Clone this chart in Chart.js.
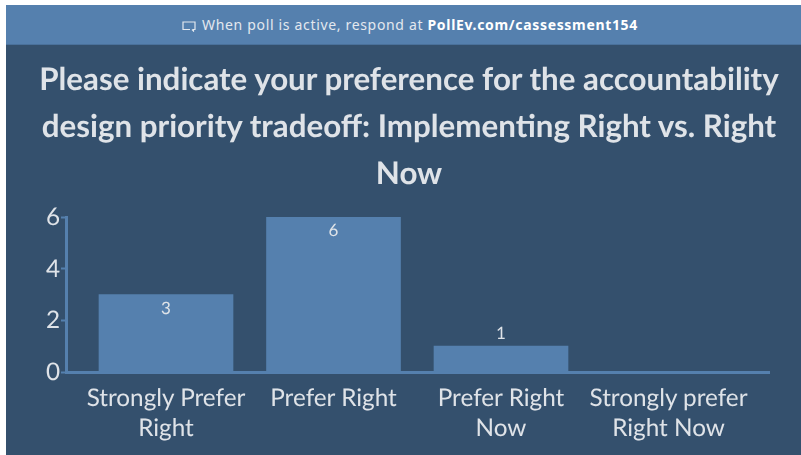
<!DOCTYPE html>
<html><head><meta charset="utf-8">
<script src="https://cdn.jsdelivr.net/npm/chart.js@4"></script>
<style>
html,body{margin:0;padding:0;background:#fff;width:801px;height:455px;overflow:hidden}
#panel{position:absolute;left:6px;top:5px;width:795px;height:450px;background:#34506d}
#banner{position:absolute;left:6px;top:5px;width:795px;height:40px;background:#5580ae;border-bottom:1px solid #4a719b;box-sizing:border-box;color:#e3e8ee;font:14px/40px "Noto Sans",sans-serif;text-align:center;letter-spacing:.67px;padding-left:13px}
#banner b{font-weight:700;color:#fff}
#banner svg{vertical-align:-2px;margin-right:6px}
canvas{position:absolute;left:0;top:0}
</style></head><body>
<div id="panel"></div>
<div id="banner"><svg width="14" height="11" viewBox="0 0 14 11" fill="none" stroke="#e3e8ee" stroke-width="1.2"><path d="M8 8.5H1V1h12v7.5h-1.5V10L10 8.5"/></svg>When poll is active, respond at <b>PollEv.com/cassessment154</b></div>
<canvas id="c" width="801" height="455"></canvas>
<script>
const categories=[["Strongly Prefer","Right"],["Prefer Right"],["Prefer Right","Now"],["Strongly prefer","Right Now"]];
const values=[3,6,1,0];
const yTicks=[0,2,4,6];
const titleLines=["Please indicate your preference for the accountability","design priority tradeoff: Implementing Right vs. Right","Now"];
const textColor="#dfe3e8",axisColor="#5580ae",font='Lato';
const valueLabels={id:"valueLabels",afterDatasetsDraw(chart){
  const {ctx}=chart;ctx.save();
  ctx.font='17px '+font;ctx.fillStyle=textColor;ctx.textAlign="center";ctx.textBaseline="middle";
  chart.getDatasetMeta(0).data.forEach((bar,i)=>{
    const v=values[i];if(!v)return;
    const y=v>=2?bar.y+14:bar.y-13;
    ctx.fillText(String(v),bar.x,y);
  });ctx.restore();}};
const titleShift={id:"titleShift",
  beforeDraw(chart){chart.ctx.textRendering="geometricPrecision";},
  afterLayout(chart){chart.titleBlock.left=0;chart.titleBlock.right=818;}};
new Chart(document.getElementById("c"),{
  type:"bar",
  data:{datasets:[{data:values.map((v,i)=>({x:i,y:v})),backgroundColor:axisColor,barThickness:134,borderSkipped:false}]},
  options:{responsive:false,animation:false,
    layout:{padding:{top:0,right:32,bottom:0,left:0}},
    plugins:{legend:{display:false},tooltip:{enabled:false},
      title:{display:true,text:titleLines,color:textColor,font:{family:font,size:31.3,weight:"700",lineHeight:47/31.3},padding:{top:56,bottom:20}}},
    scales:{
      x:{type:"linear",offset:false,min:-0.597,max:3.6,
        afterBuildTicks(s){s.ticks=categories.map((_,i)=>({value:i}));},
        afterFit(s){s.height=83;},
        grid:{display:false,drawTicks:false},
        border:{color:axisColor,width:3},
        ticks:{autoSkip:false,maxRotation:0,padding:11,color:textColor,font:{family:font,size:24.3,lineHeight:1.235},callback:v=>categories[v]}},
      y:{min:0,max:6,
        afterBuildTicks(s){s.ticks=yTicks.map(v=>({value:v}));},
        afterFit(s){s.width=66;},
        grid:{display:true,drawOnChartArea:false,drawTicks:true,tickLength:5,color:axisColor,tickWidth:2},
        border:{color:axisColor,width:3},
        ticks:{padding:1,color:textColor,font:{family:font,size:24.3}}}
    }},
  plugins:[valueLabels,titleShift]
});
</script></body></html>
